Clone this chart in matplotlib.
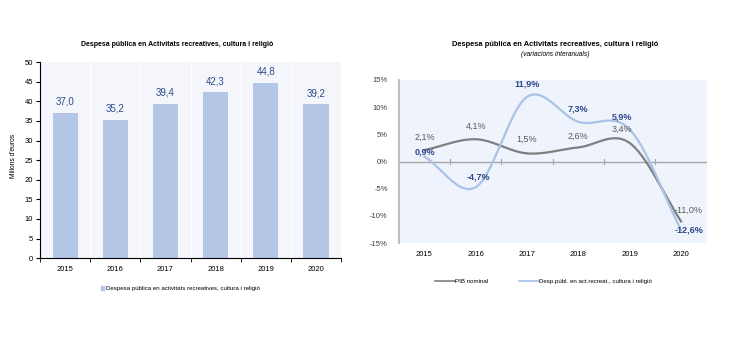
import numpy as np
import matplotlib
matplotlib.use('Agg')
import matplotlib.pyplot as plt
from matplotlib.lines import Line2D
from matplotlib.patches import Patch

plt.rcParams['font.family'] = ['Liberation Sans', 'DejaVu Sans']

# dades
anys = ['2015', '2016', '2017', '2018', '2019', '2020']
despesa = [37.0, 35.2, 39.4, 42.3, 44.8, 39.2]
pib = [2.1, 4.1, 1.5, 2.6, 3.4, -11.0]
desp_var = [0.9, -4.7, 11.9, 7.3, 5.9, -12.6]

blau_barra = '#B4C7E7'
blau_text = '#2E4A8C'
gris = '#7F7F7F'
blau_linia = '#A9C2E8'


# corba suavitzada tipus Excel (Catmull-Rom)
def suavitza(x, y, n=30):
    x = np.asarray(x, float)
    y = np.asarray(y, float)
    px = np.concatenate([[2 * x[0] - x[1]], x, [2 * x[-1] - x[-2]]])
    py = np.concatenate([[2 * y[0] - y[1]], y, [2 * y[-1] - y[-2]]])
    xs, ys = [], []
    for i in range(1, len(px) - 2):
        t = np.linspace(0, 1, n)
        for p, out in ((px, xs), (py, ys)):
            p0, p1, p2, p3 = p[i - 1], p[i], p[i + 1], p[i + 2]
            out.append(0.5 * ((2 * p1) + (-p0 + p2) * t +
                              (2 * p0 - 5 * p1 + 4 * p2 - p3) * t ** 2 +
                              (-p0 + 3 * p1 - 3 * p2 + p3) * t ** 3))
    return np.concatenate(xs), np.concatenate(ys)


fig = plt.figure(figsize=(7.4, 3.57), dpi=100)
fig.patch.set_facecolor('white')

########## grafic esquerra ##########
ax1 = fig.add_axes([0.054, 0.277, 0.407, 0.549])
ax1.set_facecolor('#F4F6FC')
x = np.arange(len(anys))
ax1.bar(x, despesa, width=0.5, color=blau_barra, zorder=2)
for xi, v in zip(x, despesa):
    ax1.text(xi, v + 1.6, f'{v:.1f}'.replace('.', ','), ha='center', va='bottom',
             fontsize=7, color=blau_text)
for b in np.arange(0.5, len(anys) - 1, 1):
    ax1.axvline(b, color='white', lw=1, zorder=1)
ax1.set_xlim(-0.5, len(anys) - 0.5)
ax1.set_ylim(0, 50)
ax1.set_yticks(np.arange(0, 51, 5))
ax1.set_xticks(x)
ax1.set_xticklabels(anys)
ax1.set_xticks(np.arange(-0.5, len(anys), 1), minor=True)
ax1.tick_params(axis='x', which='major', length=0, labelsize=5.5, pad=6)
ax1.tick_params(axis='x', which='minor', length=3, direction='out')
ax1.tick_params(axis='y', labelsize=5.5, length=3, pad=2)
for s in ['top', 'right']:
    ax1.spines[s].set_visible(False)
ax1.spines['left'].set_linewidth(0.8)
ax1.spines['bottom'].set_linewidth(0.8)
ax1.set_ylabel("Milions d'euros", fontsize=4.8, labelpad=9)
ax1.yaxis.set_label_coords(-0.075, 0.52)
fig.text(0.239, 0.876, 'Despesa pública en Activitats recreatives, cultura i religió',
         ha='center', va='center', fontsize=5.0, fontweight='bold')
ax1.legend([Patch(color=blau_barra)],
           ['Despesa pública en activitats recreatives, cultura i religió'],
           loc='center', bbox_to_anchor=(0.465, -0.155), frameon=False,
           fontsize=4.4, handlelength=0.6, handleheight=0.6, handletextpad=0.2)

########## grafic dreta ##########
ax2 = fig.add_axes([0.539, 0.319, 0.416, 0.457])
ax2.set_facecolor('#EFF3FB')
sx, sy = suavitza(x, pib)
ax2.plot(sx, sy, color=gris, lw=1.6, zorder=3)
sx, sy = suavitza(x, desp_var)
ax2.plot(sx, sy, color=blau_linia, lw=1.6, zorder=3)
ax2.axhline(0, color='#A6A6A6', lw=1, zorder=2)
for b in np.arange(0.5, len(anys) - 1, 1):
    ax2.plot([b, b], [-0.4, 0.4], color='#A6A6A6', lw=0.8, zorder=2)

desp_pos = [(0, 0.9), (0.05, 1.9), (0, 2.3), (0, 2.3), (-0.15, 2.2), (0.15, 0.0)]
pib_pos = [(0, 2.3), (0, 2.3), (0, 2.6), (0, 2.0), (-0.15, 2.5), (0.15, 2.0)]
for i in range(len(anys)):
    dx, dy = pib_pos[i]
    ax2.text(x[i] + dx, pib[i] + dy, f'{pib[i]:.1f}%'.replace('.', ','),
             ha='center', va='center', fontsize=6.5, color='#595959')
    dx, dy = desp_pos[i]
    ax2.text(x[i] + dx, desp_var[i] + dy, f'{desp_var[i]:.1f}%'.replace('.', ','),
             ha='center', va='center', fontsize=6.5, color=blau_text,
             fontweight='bold')

ax2.set_xlim(-0.5, len(anys) - 0.5)
ax2.set_ylim(-15, 15)
ax2.set_yticks(np.arange(-15, 16, 5))
ax2.set_yticklabels([f'{v}%' for v in range(-15, 16, 5)])
ax2.set_xticks(x)
ax2.set_xticklabels(anys)
ax2.tick_params(axis='x', length=0, labelsize=5.5, pad=6)
ax2.tick_params(axis='y', length=0, labelsize=5.5, pad=8, labelcolor='#404040')
for s in ['top', 'right', 'bottom']:
    ax2.spines[s].set_visible(False)
ax2.spines['left'].set_color('#BFBFBF')
ax2.spines['left'].set_linewidth(1.5)
fig.text(0.75, 0.876, 'Despesa pública en Activitats recreatives, cultura i religió',
         ha='center', va='center', fontsize=5.4, fontweight='bold')
fig.text(0.75, 0.846, '(variacions interanuals)', ha='center', va='center',
         fontsize=4.8, style='italic')
ax2.legend([Line2D([], [], color=gris, lw=1.2), Line2D([], [], color=blau_linia, lw=1.2)],
           ['PIB nominal', 'Desp.públ. en act.recreat., cultura i religió'],
           loc='center', bbox_to_anchor=(0.47, -0.235), ncol=2, frameon=False,
           fontsize=4.4, handlelength=3.2, handletextpad=0.1, columnspacing=5)

plt.savefig('out.png', dpi=100)
